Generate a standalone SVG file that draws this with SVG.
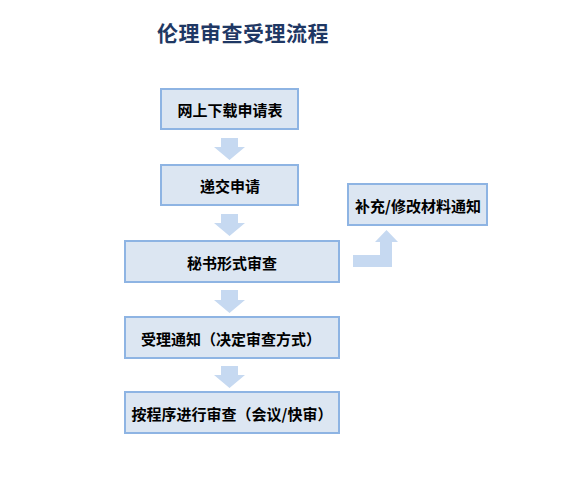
<svg xmlns="http://www.w3.org/2000/svg" width="567" height="489" viewBox="0 0 567 489">
<style>
.box{fill:#DCE6F2;stroke:#8EB4E3;stroke-width:2}
.t{font-family:"Noto Sans CJK SC",sans-serif;font-size:15px;font-weight:bold;fill:#000;text-anchor:middle;dominant-baseline:central}
.arr{fill:#C6D9F1}
.title{font-family:"Noto Sans CJK SC",sans-serif;font-size:21px;font-weight:bold;fill:#1F3864;text-anchor:middle;dominant-baseline:central;letter-spacing:0.5px}
</style>
<rect width="567" height="489" fill="#fff"/>
<text class="title" x="243" y="32">伦理审查受理流程</text>
<g id="n1"><rect class="box" x="161" y="89" width="137" height="40"/><text class="t" x="230" y="109">网上下载申请表</text></g>
<g id="n2"><rect class="box" x="161" y="165" width="137" height="40"/><text class="t" x="230" y="185">递交申请</text></g>
<g id="n3"><rect class="box" x="125" y="241" width="214" height="41"/><text class="t" x="232" y="262">秘书形式审查</text></g>
<g id="n4"><rect class="box" x="348" y="184" width="139" height="41"/><text class="t" x="418" y="205">补充/修改材料通知</text></g>
<g id="n5"><rect class="box" x="125" y="317" width="214" height="41"/><text class="t" x="231" y="338">受理通知（决定审查方式）</text></g>
<g id="n6"><rect class="box" x="125" y="392" width="214" height="41"/><text class="t" x="232" y="413">按程序进行审查（会议/快审）</text></g>
<g id="connectors">
<polygon class="arr" points="221,138 238,138 238,147 245,147 229.5,160 214,147 221,147"/>
<polygon class="arr" points="221,214 238,214 238,223 245,223 229.5,236 214,223 221,223"/>
<polygon class="arr" points="221,290 238,290 238,300 245,300 229.5,313 214,300 221,300"/>
<polygon class="arr" points="221,366 238,366 238,375 245,375 229.5,388 214,375 221,375"/>
<polygon class="arr" points="353,255 380,255 380,242 375,242 386.5,230 398,242 392,242 392,267 353,267"/>
</g>
</svg>
